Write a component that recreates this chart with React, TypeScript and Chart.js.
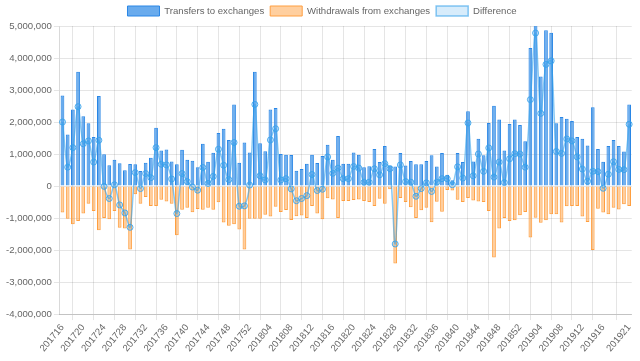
import React, { useEffect, useRef } from 'react';
import { Chart, registerables } from 'chart.js';

Chart.register(...registerables);

const weeks = [
  '201716','201717','201718','201719','201720','201721','201722','201723','201724','201725',
  '201726','201727','201728','201729','201730','201731','201732','201733','201734','201735',
  '201736','201737','201738','201739','201740','201741','201742','201743','201744','201745',
  '201746','201747','201748','201749','201750','201751','201752',
  '201801','201802','201803','201804','201805','201806','201807','201808','201809','201810',
  '201811','201812','201813','201814','201815','201816','201817','201818','201819','201820',
  '201821','201822','201823','201824','201825','201826','201827','201828','201829','201830',
  '201831','201832','201833','201834','201835','201836','201837','201838','201839','201840',
  '201841','201842','201843','201844','201845','201846','201847','201848','201849','201850',
  '201851','201852',
  '201901','201902','201903','201904','201905','201906','201907','201908','201909','201910',
  '201911','201912','201913','201914','201915','201916','201917','201918','201919','201920',
  '201921'
];

const transfers = [
  2830000, 1610000, 2390000, 3570000, 2180000, 1960000, 1530000, 2810000, 990000, 650000,
  820000, 710000, 490000, 690000, 680000, 470000, 730000, 880000, 1820000, 1110000,
  1140000, 770000, 680000, 1130000, 820000, 790000, 590000, 1320000, 760000, 1040000,
  1660000, 1790000, 1440000, 2550000, 730000, 1360000, 1050000, 3570000, 1340000, 1090000,
  2390000, 2440000, 1000000, 980000, 970000, 480000, 530000, 700000, 980000, 720000,
  940000, 1290000, 820000, 1560000, 700000, 700000, 1050000, 980000, 590000, 620000,
  1160000, 750000, 1250000, 640000, 610000, 1030000, 640000, 780000, 680000, 680000,
  780000, 960000, 610000, 1030000, 350000, 180000, 1030000, 750000, 2340000, 770000,
  1480000, 960000, 1970000, 2510000, 2080000, 1110000, 1940000, 2080000, 1910000, 1400000,
  4310000, 5770000, 3420000, 4870000, 4790000, 1960000, 2160000, 2100000, 2030000, 1530000,
  1480000, 1270000, 2460000, 1160000, 760000, 1250000, 1440000, 1250000, 1080000, 2550000
];

const withdrawals = [
  -830000, -1020000, -1190000, -1090000, -860000, -550000, -780000, -1380000, -1000000, -1040000,
  -780000, -1300000, -1330000, -1980000, -260000, -550000, -340000, -620000, -620000, -430000,
  -480000, -550000, -1540000, -740000, -680000, -820000, -720000, -740000, -680000, -740000,
  -510000, -1140000, -1240000, -1190000, -1360000, -1980000, -1020000, -1020000, -1020000, -900000,
  -950000, -650000, -810000, -750000, -1060000, -940000, -920000, -1000000, -620000, -860000,
  -1040000, -380000, -420000, -1000000, -470000, -470000, -440000, -420000, -470000, -500000,
  -620000, -400000, -550000, -100000, -2420000, -370000, -500000, -660000, -1000000, -760000,
  -680000, -1130000, -490000, -800000, -120000, -140000, -430000, -500000, -370000, -450000,
  -480000, -500000, -780000, -2230000, -1330000, -1000000, -1090000, -1070000, -910000, -810000,
  -1610000, -990000, -1150000, -1070000, -880000, -880000, -1140000, -630000, -620000, -620000,
  -950000, -1120000, -2000000, -710000, -830000, -880000, -680000, -730000, -570000, -620000
];

const difference = transfers.map((v, i) => v + withdrawals[i]);

const shownTickIndexes = [0, 4, 8, 12, 16, 20, 24, 28, 32, 36, 40, 44, 48, 52, 56, 60, 64, 68, 72, 76, 80, 84, 88, 92, 96, 100, 104, 109];

export default function App() {
  const ref = useRef<HTMLCanvasElement | null>(null);

  useEffect(() => {
    document.body.style.margin = '0';
    const canvas = ref.current;
    if (!canvas) return;
    const font = { family: '"Liberation Sans", Arial, Helvetica, sans-serif', size: 9.6 };
    const gridColor = 'rgba(0,0,0,0.1)';
    const chart = new Chart(canvas, {
      type: 'bar',
      data: {
        labels: weeks,
        datasets: [
          {
            type: 'bar',
            label: 'Transfers to exchanges',
            data: transfers,
            backgroundColor: 'rgba(42,135,230,0.7)',
            borderColor: 'rgb(42,135,230)',
            borderWidth: 1,
            order: 2,
          },
          {
            type: 'bar',
            label: 'Withdrawals from exchanges',
            data: withdrawals,
            backgroundColor: 'rgba(255,159,64,0.5)',
            borderColor: 'rgb(255,159,64)',
            borderWidth: 1,
            order: 3,
          },
          {
            type: 'line',
            label: 'Difference',
            data: difference,
            borderColor: 'rgba(54,162,235,0.6)',
            backgroundColor: 'rgba(54,162,235,0.2)',
            borderWidth: 1.5,
            pointRadius: 3,
            pointBorderWidth: 1,
            pointBorderColor: 'rgba(54,162,235,0.85)',
            pointBackgroundColor: 'rgba(54,162,235,0.2)',
            tension: 0.3,
            fill: false,
            order: 1,
          },
        ],
      } as any,
      options: {
        responsive: false,
        animation: false,
        layout: { padding: { right: 0, left: 4, top: 0, bottom: 5 } },
        plugins: {
          legend: {
            position: 'top',
            labels: {
              font,
              color: '#666',
              boxWidth: 32,
              boxHeight: 10,
              padding: 6,
              sort: (a: any, b: any) => a.datasetIndex - b.datasetIndex,
            },
          },
          tooltip: { enabled: false },
        },
        scales: {
          x: {
            stacked: true,
            grid: {
              offset: true,
              tickLength: 6,
              color: (ctx: any) => (ctx.tick && ctx.tick.label != null && ctx.tick.label !== '' ? gridColor : 'rgba(0,0,0,0)'),
            },
            border: { color: 'rgba(0,0,0,0.15)' },
            ticks: {
              autoSkip: false,
              minRotation: 50,
              maxRotation: 50,
              font,
              color: '#666',
              padding: 2,
              callback: (_v: any, i: number) => (shownTickIndexes.includes(i) ? weeks[i] : null),
            },
          },
          y: {
            stacked: false,
            min: -4000000,
            max: 5000000,
            grid: { color: gridColor, tickLength: 6 },
            border: { color: 'rgba(0,0,0,0.15)' },
            ticks: {
              stepSize: 1000000,
              font,
              color: '#666',
              padding: 2,
              callback: (v: any) => Number(v).toLocaleString('en-US'),
            },
          },
        },
      } as any,
    });
    return () => chart.destroy();
  }, []);

  return (
    <div style={{ width: 640, height: 361 }}>
      <canvas ref={ref} width={640} height={361} />
    </div>
  );
}
